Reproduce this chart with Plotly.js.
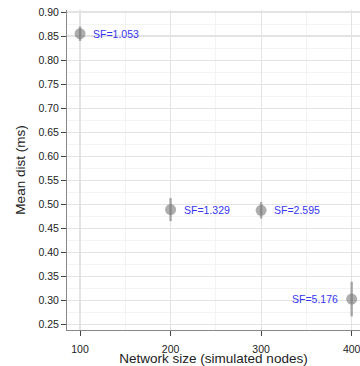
<!DOCTYPE html>
<html>
<head>
<meta charset="utf-8">
<script src="https://cdn.plot.ly/plotly-3.0.1.min.js"></script>
<style>html,body{margin:0;padding:0;background:#fff;}#chart{width:360px;height:366px;}</style>
</head>
<body>
<div id="chart"></div>
<script>
var networkSize = [100, 200, 300, 400];
var meanDist = [0.855, 0.489, 0.4875, 0.303];
var errDist = [0.015, 0.024, 0.017, 0.036];
var sfLabels = ["SF=1.053", "SF=1.329", "SF=2.595", "SF=5.176"];
var labelSide = ["right", "right", "right", "left"];
var yTicks = [0.25, 0.30, 0.35, 0.40, 0.45, 0.50, 0.55, 0.60, 0.65, 0.70, 0.75, 0.80, 0.85, 0.90];
var xTicks = [100, 200, 300, 400];

var trace = {
  x: networkSize,
  y: meanDist,
  type: 'scatter',
  mode: 'markers',
  marker: {size: 11, color: 'rgba(120,120,120,0.6)'},
  error_y: {type: 'data', array: errDist, visible: true, thickness: 2.5, width: 0, color: 'rgba(120,120,120,0.6)'},
  hoverinfo: 'none',
  showlegend: false
};

var annotations = networkSize.map(function (x, i) {
  var right = labelSide[i] === 'right';
  return {
    x: x, y: meanDist[i], xref: 'x', yref: 'y',
    text: sfLabels[i], showarrow: false,
    xanchor: right ? 'left' : 'right',
    xshift: right ? 11 : -12,
    font: {family: 'Liberation Sans, Arial, sans-serif', size: 10.5, color: '#3535f2'}
  };
});

var layout = {
  width: 360, height: 366,
  margin: {l: 67, r: 0, t: 10, b: 36},
  paper_bgcolor: '#ffffff', plot_bgcolor: '#ffffff',
  font: {family: 'Liberation Sans, Arial, sans-serif', color: '#222'},
  xaxis: {
    range: [85.6, 409.2],
    tickvals: xTicks, ticktext: xTicks.map(String),
    ticks: 'outside', ticklen: 5, tickcolor: '#444', tickwidth: 1,
    ticklabelstandoff: 4,
    ticklabeloverflow: 'allow',
    tickfont: {size: 10.5, color: '#222'},
    showline: true, linecolor: '#888', linewidth: 1,
    showgrid: true, gridcolor: '#e3e3e3', gridwidth: 1.2,
    minor: {dtick: 50, showgrid: true, gridcolor: '#f3f3f3', gridwidth: 1, ticks: ''},
    zeroline: false,
    title: {text: 'Network size (simulated nodes)', font: {size: 13.5, color: '#222'}, standoff: 0},
    automargin: false
  },
  yaxis: {
    range: [0.2386, 0.9042],
    tickvals: yTicks, ticktext: yTicks.map(function (v) { return v.toFixed(2); }),
    ticks: 'outside', ticklen: 5, tickcolor: '#444', tickwidth: 1,
    tickfont: {size: 10.5, color: '#222'},
    showline: true, linecolor: '#888', linewidth: 1,
    showgrid: true, gridcolor: '#e3e3e3', gridwidth: 1.2,
    minor: {dtick: 0.025, showgrid: true, gridcolor: '#f3f3f3', gridwidth: 1, ticks: ''},
    zeroline: false,
    title: {text: 'Mean dist (ms)', font: {size: 13.5, color: '#222'}, standoff: 9},
    automargin: false
  },
  annotations: annotations
};

Plotly.newPlot('chart', [trace], layout, {displayModeBar: false, staticPlot: true});
</script>
</body>
</html>
